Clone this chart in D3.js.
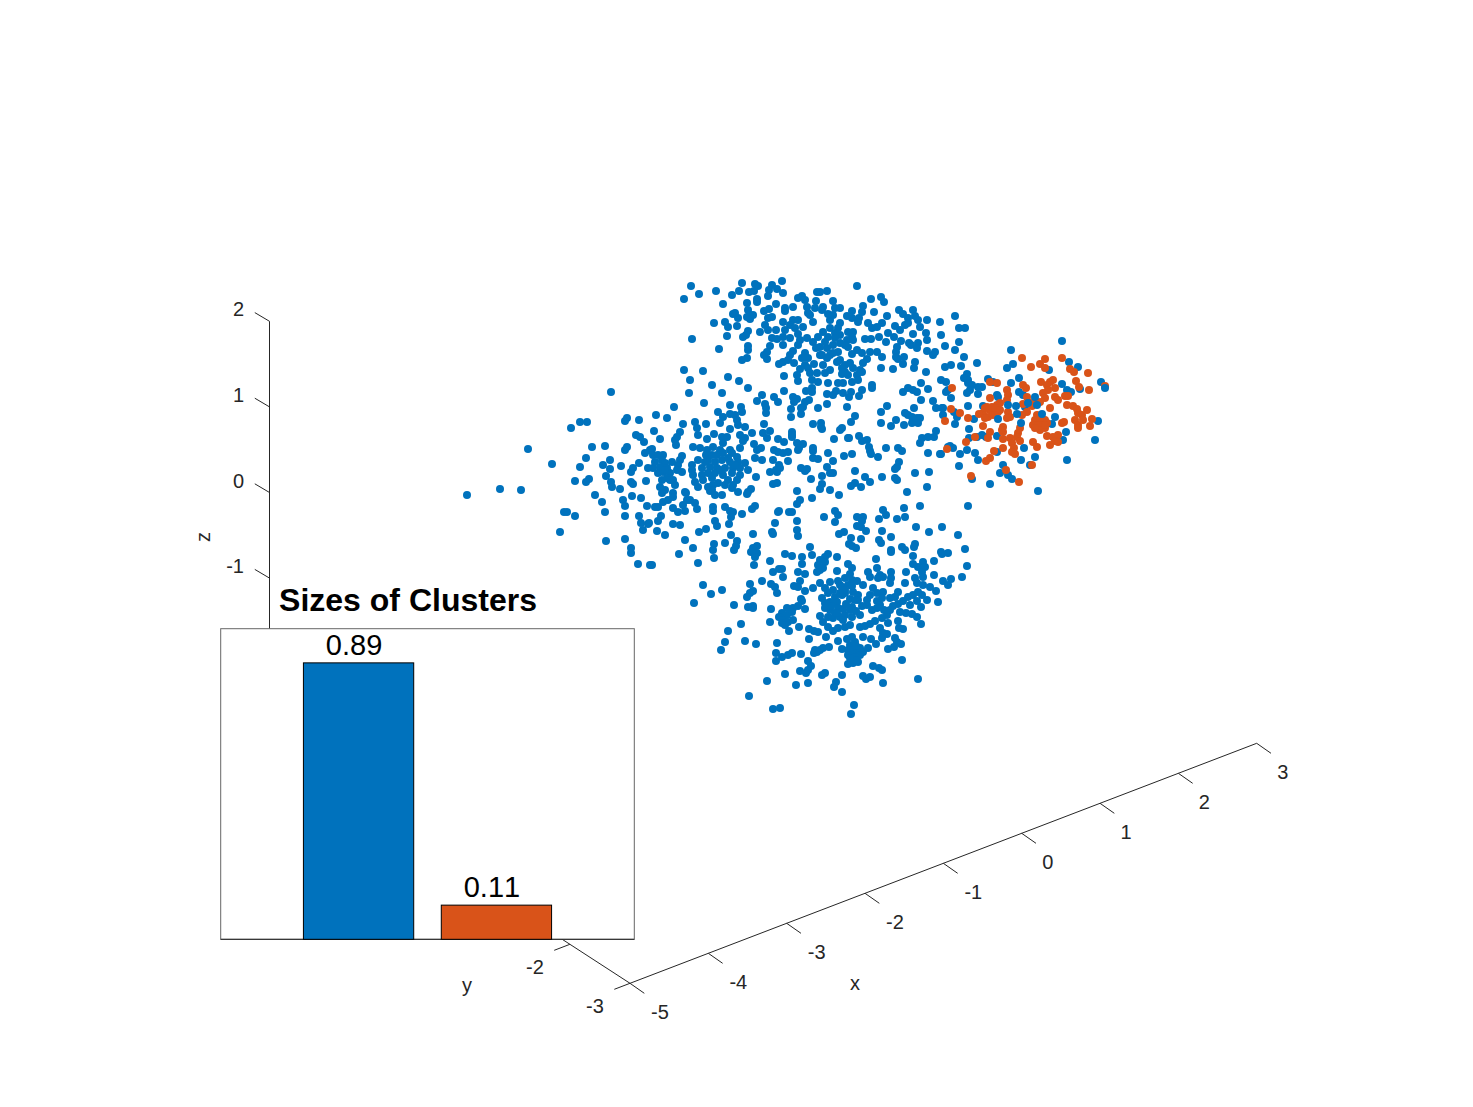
<!DOCTYPE html>
<html>
<head>
<meta charset="utf-8">
<title>Sizes of Clusters</title>
<script src="https://cdn.jsdelivr.net/npm/d3@7"></script>
<style>
  html, body { margin: 0; padding: 0; background: #fff; }
  svg { display: block; }
  text { font-family: "Liberation Sans", Arial, sans-serif; }
</style>
</head>
<body>
<div id="chart"></div>
<script>
// Axis ticks of the 3-D box.
const xTicks = [-5, -4, -3, -2, -1, 0, 1, 2, 3];
const yTicks = [-3, -2];
const zTicks = [-1, 0, 1, 2];

// Cluster share bars.
const clusterIds = [1, 2];
const clusterShares = [0.89, 0.11];

// Samples as seen on the viewing plane: [horizontal, vertical], in hundredths of a view unit.
const blueUpperLeft = [[291,514],[299,506],[284,501],[316,509],[323,496],[332,505],[339,509],[342,517],[349,508],[355,516],[358,514],[354,509],[357,501],[357,498],[347,497],[372,515],[369,510],[377,511],[383,507],[382,519],[368,504],[376,496],[369,491],[364,489],[348,490],[350,485],[347,483],[353,485],[350,481],[333,486],[338,482],[335,487],[325,478],[328,473],[337,474],[314,477],[327,464],[292,461],[348,469],[346,465],[343,463],[360,468],[319,451],[348,454],[348,450],[347,442],[342,440],[284,430],[303,429],[290,420],[328,423],[339,419],[312,415],[385,492],[385,489],[393,493],[398,502],[402,504],[405,500],[416,499],[417,508],[407,493],[410,485],[415,492],[368,482],[372,483],[365,475],[368,470],[383,478],[385,470],[376,470],[393,480],[398,480],[390,475],[395,472],[403,473],[413,478],[408,487],[372,462],[377,461],[383,463],[390,462],[398,466],[407,462],[413,458],[418,463],[370,454],[383,455],[398,455],[393,449],[390,445],[367,448],[364,445],[367,441],[405,447],[402,442],[408,442],[379,436],[383,438],[388,440],[394,437],[405,435],[400,431],[414,436],[408,432],[384,424],[397,425],[398,419],[410,427],[417,427],[412,420],[418,418],[420,445]];

const blueUpperRight = [[427,509],[420,508],[457,514],[433,499],[423,493],[422,490],[435,492],[440,492],[428,486],[433,485],[452,489],[447,484],[452,482],[430,480],[459,482],[458,478],[463,494],[462,488],[471,501],[481,503],[484,498],[474,488],[487,484],[499,490],[503,486],[513,490],[515,484],[508,482],[518,480],[527,480],[540,478],[555,484],[559,472],[565,472],[541,465],[468,477],[472,472],[477,473],[482,477],[495,474],[500,470],[505,475],[508,477],[520,473],[488,467],[494,463],[513,466],[526,467],[527,460],[479,463],[465,461],[471,461],[486,458],[501,459],[509,457],[511,455],[518,457],[517,452],[545,454],[559,458],[555,450],[527,449],[535,448],[533,445],[497,453],[496,448],[496,443],[498,441],[504,443],[503,436],[515,438],[514,432],[482,443],[470,448],[477,448],[481,432],[493,431],[526,428],[545,433],[551,435],[561,434],[564,443],[567,426],[564,422],[568,420],[541,420],[546,418],[521,417],[440,477],[438,472],[435,467],[430,472],[423,468],[428,463],[440,465],[448,468],[453,468],[452,463],[447,460],[453,460],[440,457],[433,455],[427,452],[420,453],[448,453],[438,448],[433,447],[457,450],[462,447],[452,446],[467,441],[463,437],[427,442],[422,445],[437,438],[430,430],[423,435],[425,427],[450,437],[445,435],[442,432],[453,432],[460,430],[442,426],[448,425],[457,425],[462,428],[458,420],[452,418],[438,417],[443,417],[428,417],[472,415]];

const blueRightEdge = [[662,459],[611,450],[577,437],[607,432],[613,436],[669,438],[678,433],[649,430],[568,417],[572,415],[570,410],[567,407],[548,410],[546,408],[551,402],[578,413],[582,413],[578,406],[588,421],[593,418],[619,422],[611,417],[662,416],[667,410],[671,408],[680,411],[701,418],[597,405],[598,403],[619,408],[623,405],[568,394],[583,394],[543,392],[543,385],[554,388],[557,383],[555,376],[574,381],[625,393],[655,383],[652,376],[698,379],[666,368],[663,360],[695,360],[569,371],[569,362],[577,363],[582,365],[586,363],[597,364],[548,353],[553,352],[550,354],[541,346],[560,346],[567,350],[575,347],[578,340],[597,348],[621,340],[635,343],[667,340],[559,334],[603,335],[600,327],[608,325],[612,321],[630,335],[572,321],[590,316],[638,309]];

const blueLeftTail = [[211,408],[227,382],[225,379],[239,380],[180,378],[187,378],[171,372],[236,365],[240,363],[244,358],[128,351],[192,353],[205,354],[227,353],[225,350],[245,347],[250,350],[186,342],[152,336],[210,340],[203,335],[221,334],[239,337],[180,333],[210,331],[233,332],[231,328],[248,332],[206,324],[175,319],[189,321],[186,318],[211,318],[212,313],[220,311],[231,318],[233,316],[246,319],[100,311],[121,310],[67,305],[195,305],[232,304],[241,302],[223,300],[202,298],[225,294],[247,294],[164,288],[167,288],[205,288],[175,284],[225,284],[239,284],[241,277],[248,276],[243,270],[160,268],[206,259],[225,261],[231,252],[231,247],[238,236],[250,235]];

const blueLeftCore = [[348,412],[289,407],[322,407],[362,405],[357,399],[374,403],[378,398],[304,397],[274,393],[365,396],[366,392],[366,387],[341,393],[342,388],[330,395],[318,388],[256,385],[267,382],[330,386],[323,383],[335,385],[337,380],[338,375],[295,378],[297,372],[298,365],[306,376],[320,377],[283,376],[345,373],[330,371],[364,376],[370,369],[363,367],[254,369],[280,368],[277,363],[275,360],[276,355],[260,361],[314,366],[322,363],[327,363],[307,361],[340,365],[345,362],[343,359],[352,367],[367,362],[354,356],[361,352],[357,350],[378,361],[374,350],[378,348],[355,342],[362,340],[373,340],[323,357],[293,353],[300,352],[307,350],[313,353],[320,350],[330,350],[340,352],[306,345],[317,345],[323,347],[332,347],[337,343],[298,340],[308,340],[315,338],[322,340],[330,338],[345,337],[338,338],[292,335],[292,330],[293,325],[302,332],[302,325],[310,333],[317,332],[325,332],[333,332],[340,332],[348,330],[308,327],[315,327],[323,325],[332,327],[340,325],[337,320],[295,318],[298,313],[303,320],[308,313],[313,315],[318,317],[312,310],[328,320],[333,315],[332,312],[356,323],[338,308],[348,308],[351,311],[370,328],[377,328],[380,332],[373,316],[377,317],[252,351],[253,345],[282,344],[280,340],[278,335],[277,330],[282,328],[263,345],[258,345],[262,340],[265,337],[260,333],[253,332],[267,332],[270,327],[263,328],[258,327],[267,322],[273,320],[275,315],[262,320],[260,313],[265,310],[262,307],[285,308],[273,307]];

const blueCentre = [[384,409],[393,403],[397,401],[394,398],[406,409],[412,412],[412,408],[409,400],[405,398],[403,393],[401,392],[391,391],[391,383],[401,386],[418,392],[427,396],[427,406],[433,405],[436,409],[443,407],[451,408],[449,403],[462,410],[459,404],[472,412],[447,393],[487,394],[481,388],[503,408],[508,412],[513,410],[517,408],[528,411],[521,400],[533,399],[536,392],[542,392],[505,387],[508,385],[514,392],[520,382],[517,382],[513,380],[512,383],[518,377],[512,377],[496,380],[481,377],[491,374],[504,375],[455,384],[451,378],[413,376],[421,377],[421,373],[422,371],[442,372],[440,370],[392,368],[392,365],[392,363],[536,369],[448,362],[449,362],[434,361],[459,364],[462,359],[467,360],[522,362],[528,363],[534,363],[520,357],[384,358],[397,357],[403,356],[399,352],[398,350],[413,352],[413,349],[486,352],[498,352],[502,349],[469,353],[470,349],[471,346],[383,347],[388,348],[428,347],[444,344],[452,346],[478,343],[528,347],[540,346],[413,342],[418,341],[388,339],[433,339],[499,338],[497,333],[495,331],[379,335],[376,330],[401,332],[407,331],[405,329],[427,333],[455,329],[529,328],[515,327],[430,327],[433,327],[422,324],[411,321],[465,323],[482,323],[495,322],[497,320],[470,318],[422,316],[420,311],[455,317],[451,314],[461,313],[527,313],[430,310],[507,308],[397,309],[439,305],[412,302],[400,300]];

const blueLowerLeft = [[255,293],[258,293],[249,277],[261,284],[258,279],[273,276],[280,275],[257,269],[265,265],[252,235],[285,260],[279,246],[293,252],[298,237],[299,268],[306,271],[263,298],[268,300],[273,303],[286,307],[273,292],[278,288],[285,289],[283,295],[287,300],[290,300],[295,297],[297,291],[310,309],[315,305],[322,305],[347,306],[313,293],[313,289],[325,293],[330,289],[333,288],[331,283],[342,286],[355,294],[352,291],[315,279],[317,274],[329,276],[378,288],[375,277],[353,266],[372,268],[373,266],[331,265],[337,259],[325,257],[336,254],[334,250],[314,256],[313,250],[314,242],[357,254],[353,252],[351,248],[357,247],[355,243],[370,239],[354,235],[373,228],[379,231],[362,219],[303,215],[311,206],[322,210],[350,216],[353,209],[350,207],[347,203],[371,216],[375,213],[377,207]];

const blueLowerUpper = [[397,296],[379,289],[389,288],[392,288],[397,279],[397,270],[398,264],[424,283],[435,289],[438,285],[435,278],[457,283],[463,283],[462,279],[457,274],[461,273],[466,269],[439,266],[444,268],[451,262],[449,256],[452,254],[456,252],[461,261],[483,290],[486,285],[479,281],[497,281],[505,283],[504,292],[520,294],[568,294],[516,273],[529,268],[542,273],[558,265],[482,269],[491,263],[479,260],[481,257],[502,253],[505,250],[515,256],[514,253],[491,250],[491,248],[410,253],[565,251],[541,248],[542,246],[548,247],[385,246],[392,244],[402,243],[412,245],[428,246],[425,243],[437,243],[476,241],[513,244],[534,239],[420,240],[418,235],[425,238],[420,230],[423,232],[417,228],[402,236],[382,231],[567,234],[448,236],[452,232],[437,229],[477,232],[513,236],[518,233],[523,238],[525,233],[522,228],[506,228],[491,228],[468,228],[470,223],[398,228],[405,226],[383,223],[534,225],[562,223],[450,226],[445,222],[452,220],[480,225],[478,222],[483,223],[515,222],[523,223],[551,221],[543,219],[548,215],[491,222],[490,217],[400,219],[394,214],[398,213],[505,217],[420,217],[430,218],[438,219],[440,215],[457,219],[463,215],[473,212],[517,217],[523,215],[530,213],[413,212],[405,209],[425,212],[428,207],[433,210],[442,213],[448,215],[483,208],[477,207],[470,205],[453,208],[458,205],[498,208],[495,203],[518,208],[513,205],[508,203],[536,209],[401,201],[422,202],[435,203],[442,205],[445,207],[450,201],[458,200],[490,202],[482,202],[477,199],[538,198],[527,200],[522,205],[517,199],[503,199],[430,198],[437,198],[425,197],[467,200]];

const blueLowerCore = [[294,197],[334,195],[348,193],[353,194],[353,192],[371,191],[405,191],[402,199],[387,192],[393,192],[398,194],[382,187],[379,183],[387,185],[392,188],[383,180],[382,177],[388,178],[393,180],[385,175],[370,178],[341,176],[399,173],[389,169],[328,169],[409,171],[414,169],[418,168],[420,184],[423,178],[428,173],[433,169],[438,172],[445,173],[450,175],[460,173],[465,174],[470,176],[430,190],[435,187],[433,182],[428,183],[440,183],[445,185],[443,180],[452,183],[460,185],[433,197],[452,193],[462,194],[467,195],[472,190],[480,195],[490,190],[487,185],[482,182],[475,179],[488,177],[498,196],[510,195],[506,187],[512,186],[517,183],[521,176],[521,193],[498,179],[499,172],[503,171],[480,172],[483,167],[487,166],[482,162],[495,162],[497,158],[501,156],[494,153],[488,151],[463,163],[471,161],[476,156],[426,163],[409,161],[377,157],[438,159],[447,161],[452,163],[455,158],[450,155],[453,152],[457,148],[452,148],[460,145],[463,148],[468,152],[442,151],[448,150],[415,150],[414,147],[420,150],[423,152],[429,153],[417,148],[455,143],[458,138],[453,137],[448,136],[325,158],[321,150],[345,159],[356,156],[376,147],[376,139],[382,143],[388,145],[392,147],[401,146],[502,140],[408,139],[411,134],[400,129],[406,127],[408,130],[473,134],[479,132],[482,130],[385,126],[422,125],[425,127],[442,125],[463,124],[466,121],[470,123],[483,117],[518,121],[367,119],[396,115],[408,117],[436,118],[434,113],[442,108],[349,104],[373,91],[380,92],[454,95],[451,86]];

// Overlapping samples inside the densest parts of the blue lobes.
const blueDenseCores = [[425,192],[431,194],[438,192],[443,191],[450,190],[456,189],[446,196],[437,187],[477,192],[484,190],[493,194],[500,188],[445,210],[452,214],[440,207],[455,200],[450,150],[460,152],[456,154],[448,145],[456,140],[450,142],[400,460],[425,458],[435,462],[445,455],[430,445],[416,452],[440,440],[445,428],[312,345],[328,342],[335,335],[320,330],[305,338],[312,322],[325,315],[265,330],[270,320],[255,338],[272,338]];

const orangeCluster = [[622,442],[662,442],[645,441],[640,436],[631,433],[645,432],[670,431],[674,428],[688,427],[641,418],[650,418],[653,420],[647,415],[676,419],[679,413],[689,410],[705,414],[590,418],[597,417],[552,412],[623,415],[626,412],[607,410],[608,405],[655,412],[648,410],[655,403],[658,400],[668,404],[665,404],[643,407],[645,402],[590,402],[607,400],[627,403],[623,396],[640,398],[633,398],[632,394],[600,397],[597,395],[587,393],[590,390],[583,387],[579,386],[588,383],[593,385],[598,388],[592,393],[608,388],[610,383],[607,382],[627,388],[622,385],[650,392],[667,395],[673,394],[677,391],[687,390],[682,385],[678,387],[675,380],[678,375],[683,380],[692,381],[690,374],[678,372],[551,391],[560,387],[545,379],[568,382],[583,374],[603,373],[603,368],[602,370],[637,385],[635,380],[640,380],[645,380],[633,375],[638,375],[643,375],[647,377],[640,370],[645,372],[662,377],[664,378],[620,372],[618,367],[617,363],[590,368],[575,363],[588,362],[603,361],[610,362],[612,357],[620,359],[647,364],[653,363],[658,365],[655,359],[658,358],[650,355],[633,358],[637,353],[566,358],[547,351],[603,352],[614,352],[612,348],[615,346],[594,349],[590,342],[586,339],[632,335],[606,330],[571,324],[619,318],[585,392],[595,392],[585,382],[600,390],[640,382],[645,375],[635,372]];

// Nearer blue samples that sit in front of the orange cloud.
const blueFront = [[705,412],[637,395],[642,386],[617,386],[616,394],[608,395],[598,381],[628,397],[621,377],[635,403],[624,352]];

const WIDTH = 1473, HEIGHT = 1107;
const BLUE = "#0072BD", ORANGE = "#D95319", INK = "#262626";

const svg = d3.select("#chart").append("svg")
  .attr("width", WIDTH).attr("height", HEIGHT)
  .attr("viewBox", [0, 0, WIDTH, HEIGHT]);

// Oblique projection of the data box: each data axis contributes its own screen offset.
const xH = d3.scaleLinear().domain([-5, 3]).range([0, 626.7]);
const xV = d3.scaleLinear().domain([-5, 3]).range([0, -240]);
const yH = d3.scaleLinear().domain([-3, 3]).range([0, -360.5]);
const yV = d3.scaleLinear().domain([-3, 3]).range([0, -234]);
const zV = d3.scaleLinear().domain([-3, 2]).range([0, -428]);
const project = (x, y, z) => [630 + xH(x) + yH(y), 983.3 + xV(x) + yV(y) + zV(z)];

// Viewing-plane scales for the samples.
const viewU = d3.scaleLinear().domain([0, 800]).range([400, 1200]);
const viewV = d3.scaleLinear().domain([0, 600]).range([800, 200]);

const axes = svg.append("g").attr("fill", "none").attr("stroke", INK).attr("stroke-width", 1);
const segment = (a, b) => axes.append("line")
  .attr("x1", a[0]).attr("y1", a[1]).attr("x2", b[0]).attr("y2", b[1]);

// z axis, x axis and y axis rulers.
segment(project(-5, 3, -3), project(-5, 3, 2));
segment(project(-5, -3, -3), project(3, -3, -3));
segment(project(-5, -3, -3), project(-5, 3, -3));

const labels = svg.append("g").attr("fill", INK).attr("font-size", 20);
const label = (x, y, s, anchor) => labels.append("text")
  .attr("x", x).attr("y", y).attr("text-anchor", anchor || "middle").text(s);

xTicks.forEach(t => {
  const p = project(t, -3, -3);
  segment(p, [p[0] + 14.3, p[1] + 10]);
  label(p[0] + (t < 0 ? 30 : 26), p[1] + 36, String(t));
});
yTicks.forEach(t => {
  const p = project(-5, t, -3);
  segment(p, [p[0] - 15.7, p[1] + 6]);
  label(p[0] - 35, p[1] + 30, String(t));
});
zTicks.forEach(t => {
  const p = project(-5, 3, t);
  segment(p, [p[0] - 14.7, p[1] - 8.7]);
  label(p[0] - 25.5, p[1] - 5, String(t), "end");
});

label(855, 990, "x");
label(467, 991.5, "y");
labels.append("text").attr("transform", "translate(210,537) rotate(-90)")
  .attr("text-anchor", "middle").text("z");

// The sample cloud, drawn back to front.
const plotPoints = (data, colour) => svg.append("g").attr("fill", colour)
  .selectAll("circle").data(data).join("circle")
  .attr("cx", d => viewU(d[0])).attr("cy", d => viewV(d[1])).attr("r", 4);

[blueUpperLeft, blueUpperRight, blueRightEdge, blueLeftTail, blueLeftCore, blueCentre,
 blueLowerLeft, blueLowerUpper, blueLowerCore, blueDenseCores].forEach(s => plotPoints(s, BLUE));
plotPoints(orangeCluster, ORANGE);
plotPoints(blueFront, BLUE);

// Inset bar chart of cluster sizes.
const barX = d3.scaleLinear().domain([0, 3]).range([220.7, 634.3]);
const barY = d3.scaleLinear().domain([0, 1]).range([939.3, 628.7]);
const barColours = [BLUE, ORANGE];
const barHalf = 0.4;

const inset = svg.append("g");
inset.append("rect")
  .attr("x", barX(0)).attr("y", barY(1))
  .attr("width", barX(3) - barX(0)).attr("height", barY(0) - barY(1))
  .attr("fill", "#fff").attr("stroke", "#666").attr("stroke-width", 1);
inset.append("line")
  .attr("x1", barX(0)).attr("x2", barX(3)).attr("y1", barY(0)).attr("y2", barY(0))
  .attr("stroke", "#262626").attr("stroke-width", 1);

inset.selectAll("rect.bar").data(clusterIds).join("rect")
  .attr("class", "bar")
  .attr("x", d => barX(d - barHalf))
  .attr("width", barX(2 * barHalf) - barX(0))
  .attr("y", (d, i) => barY(clusterShares[i]))
  .attr("height", (d, i) => barY(0) - barY(clusterShares[i]))
  .attr("fill", (d, i) => barColours[i])
  .attr("stroke", "#000").attr("stroke-width", 1);

inset.selectAll("text.share").data(clusterIds).join("text")
  .attr("class", "share")
  .attr("x", d => barX(d) - 4.5)
  .attr("y", (d, i) => barY(clusterShares[i]) - 8)
  .attr("text-anchor", "middle")
  .attr("font-size", 29)
  .style("font-kerning", "none")
  .attr("fill", "#000")
  .text((d, i) => clusterShares[i].toFixed(2));

svg.append("text")
  .attr("x", 408).attr("y", 611)
  .attr("text-anchor", "middle")
  .attr("font-size", 32).attr("font-weight", "bold").attr("fill", "#000")
  .text("Sizes of Clusters");
</script>
</body>
</html>
